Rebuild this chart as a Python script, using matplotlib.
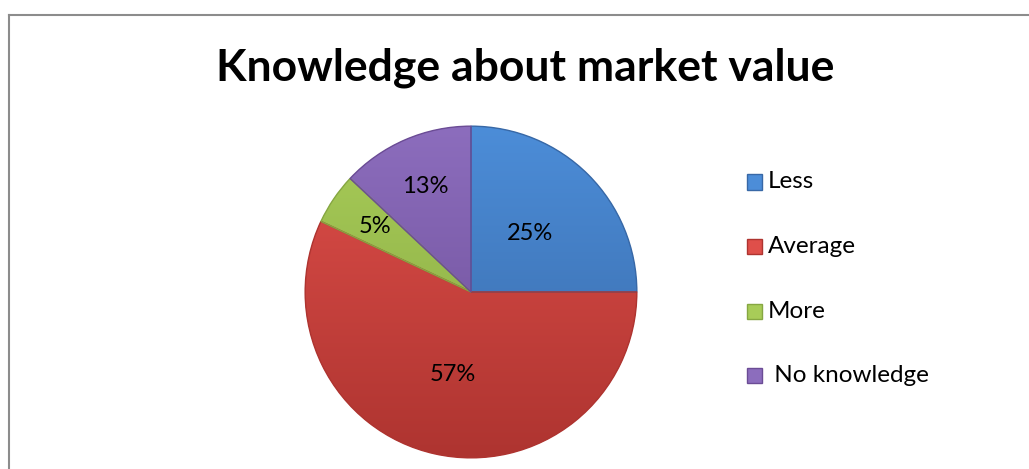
import numpy as np
import matplotlib
matplotlib.use("Agg")
from matplotlib import pyplot as plt
from matplotlib.colors import LinearSegmentedColormap
from matplotlib.lines import Line2D
from matplotlib.patches import Rectangle, Wedge

plt.rcParams['font.family'] = ['Lato', 'DejaVu Sans']

categories = ['Less', 'Average', 'More', ' No knowledge']
shares = [25, 57, 5, 13]
# light / dark tone for each slice
light = ['#4C8DD8', '#DF4F4A', '#A8CC58', '#8C6DBD']
dark = ['#3868A6', '#AE3430', '#86A742', '#6B4C95']

W, H = 1029, 469
fig = plt.figure(figsize=(W / 100, H / 100), dpi=100)

# chart frame (left and top edges only are visible)
fig.add_artist(Line2D([9 / W, 9 / W], [0, 1 - 15 / H], color='#8c8c8c', lw=1.5))
fig.add_artist(Line2D([9 / W, 1], [1 - 15 / H, 1 - 15 / H], color='#8c8c8c', lw=1.5))

fig.text(525 / W, 1 - 68 / H, 'Knowledge about market value', ha='center', va='center',
         fontsize=32, fontweight='bold', color='black')

cx, cy, r = 471, 292, 167.5
ax = fig.add_axes([(cx - r) / W, (H - cy - r) / H, 2 * r / W, 2 * r / H])

wedges, _ = ax.pie(shares, startangle=90, counterclock=False, radius=1,
                   colors=light, wedgeprops=dict(edgecolor='none'))

grad = np.linspace(1, 0, 256).reshape(-1, 1)
for w, lc, dc in zip(wedges, light, dark):
    cmap = LinearSegmentedColormap.from_list('shade', [dc, lc])
    im = ax.imshow(grad, extent=[-1, 1, -1, 1], cmap=cmap, aspect='auto',
                   origin='upper', zorder=2, interpolation='bilinear')
    im.set_clip_path(w)
    # thin bevel-like outline
    ax.add_patch(Wedge(w.center, w.r, w.theta1, w.theta2,
                       facecolor='none', edgecolor=dc, lw=1.0, zorder=3))

# percentage labels, placed along each slice's middle angle
label_r = [0.50, 0.51, 0.70, 0.69]
for w, s, lr in zip(wedges, shares, label_r):
    mid = np.deg2rad((w.theta1 + w.theta2) / 2)
    ax.text(lr * np.cos(mid), lr * np.sin(mid), f'{s}%', ha='center', va='center',
            fontsize=17, color='black', zorder=4)

ax.set_xlim(-1.01, 1.01)
ax.set_ylim(-1.01, 1.01)
ax.set_aspect('equal')
ax.axis('off')

# legend drawn as squares + labels
for i, (name, lc, dc) in enumerate(zip(categories, light, dark)):
    ypix = 182 + i * 64.5
    fig.add_artist(Rectangle((747 / W, 1 - (ypix + 7.5) / H), 15 / W, 15 / H,
                             facecolor=lc, edgecolor=dc, lw=1.0, transform=fig.transFigure))
    fig.text(768 / W, 1 - ypix / H, name, ha='left', va='center', fontsize=17.5, color='black')

fig.savefig('out.png', dpi=100, facecolor='white')
